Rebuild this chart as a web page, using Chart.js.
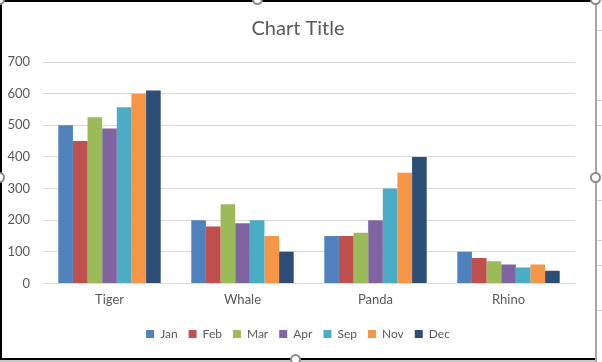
<!DOCTYPE html>
<html>
<head>
<meta charset="utf-8">
<script src="https://cdn.jsdelivr.net/npm/chart.js@4.4.1/dist/chart.umd.min.js"></script>
<style>
  html, body { margin: 0; padding: 0; background: #fff; }
  #wrap { position: relative; width: 602px; height: 362px; overflow: hidden; }
  #c { position: absolute; left: 0; top: 0; }
  .ln { position: absolute; }
  .h { position: absolute; width: 11px; height: 11px; border: 2px solid #8c8c8c; border-radius: 50%; background: #fff; box-sizing: border-box; }
</style>
</head>
<body>
<div id="wrap">
  <canvas id="c" width="602" height="362"></canvas>
  <div class="ln" style="left:0;top:0;width:602px;height:2px;background:#000"></div>
  <div class="ln" style="left:0;top:0;width:2px;height:362px;background:#000"></div>
  <div class="ln" style="left:0;top:358px;width:602px;height:2px;background:#000"></div>
  <div class="ln" style="left:0;top:360px;width:602px;height:2px;background:#c8c8c8"></div>
  <div class="ln" style="left:595px;top:0;width:2px;height:362px;background:#a6a6a6"></div>
  <div class="ln" style="left:597px;top:0;width:5px;height:362px;background:#fff"></div>
  <div class="ln" style="left:597px;top:30px;width:5px;height:1px;background:#d0d0d0"></div>
  <div class="ln" style="left:597px;top:100px;width:5px;height:1px;background:#d0d0d0"></div>
  <div class="ln" style="left:597px;top:125px;width:5px;height:1px;background:#d0d0d0"></div>
  <div class="ln" style="left:597px;top:200px;width:5px;height:1px;background:#d0d0d0"></div>
  <div class="ln" style="left:597px;top:240px;width:5px;height:1px;background:#d0d0d0"></div>
  <div class="ln" style="left:597px;top:265px;width:5px;height:1px;background:#d0d0d0"></div>
  <div class="ln" style="left:597px;top:310px;width:5px;height:1px;background:#d0d0d0"></div>
  <div class="h" style="left:-6px;top:-6px"></div>
  <div class="h" style="left:252px;top:-6px"></div>
  <div class="h" style="left:590px;top:-6px"></div>
  <div class="h" style="left:-6px;top:172px"></div>
  <div class="h" style="left:590px;top:172px"></div>
  <div class="h" style="left:290px;top:354px"></div>
</div>
<script>
const categories = ["Tiger", "Whale", "Panda", "Rhino"];
const seriesNames = ["Jan", "Feb", "Mar", "Apr", "Sep", "Nov", "Dec"];
const jan = [500, 200, 150, 100];
const feb = [450, 180, 150, 80];
const mar = [525, 250, 160, 70];
const apr = [490, 190, 200, 60];
const sep = [557, 200, 300, 50];
const nov = [600, 150, 350, 60];
const dec = [610, 100, 400, 40];
const yTicks = [0, 100, 200, 300, 400, 500, 600, 700];

const colors = ["#4F81BD", "#C0504D", "#9BBB59", "#8064A2", "#4BACC6", "#F79646", "#2C4D75"];
const values = [jan, feb, mar, apr, sep, nov, dec];

const FONT = "Lato, 'Open Sans', sans-serif";
const GREY = "#595959";

new Chart(document.getElementById("c"), {
  type: "bar",
  data: {
    labels: categories,
    datasets: seriesNames.map((n, i) => ({
      label: n,
      data: values[i],
      backgroundColor: colors[i],
      borderWidth: 0,
      categoryPercentage: 0.77,
      barPercentage: 1.0
    }))
  },
  options: {
    responsive: false,
    animation: false,
    devicePixelRatio: 1,
    layout: { padding: { left: 0, right: 6, top: 13, bottom: 12 } },
    plugins: {
      title: {
        display: true,
        text: "Chart Title",
        color: GREY,
        font: { family: FONT, size: 20, weight: "normal" },
        padding: { top: 4, bottom: 21 }
      },
      legend: {
        display: true,
        position: "bottom",
        labels: {
          color: GREY,
          font: { family: FONT, size: 12 },
          boxWidth: 8,
          boxHeight: 8,
          padding: 11
        }
      },
      tooltip: { enabled: false }
    },
    scales: {
      x: {
        grid: { display: false, drawTicks: false },
        border: { display: true, color: "#d9d9d9", width: 1 },
        ticks: { color: GREY, font: { family: FONT, size: 13 }, padding: 9 }
      },
      y: {
        min: 0,
        max: 700,
        afterBuildTicks: (s) => { s.ticks = yTicks.map(v => ({ value: v })); },
        afterFit: (s) => { s.width = 43; },
        grid: { color: "#d9d9d9", drawTicks: false },
        border: { display: false },
        ticks: { color: GREY, font: { family: FONT, size: 13 }, padding: 13 }
      },
      yR: {
        position: "right",
        display: true,
        min: 0,
        max: 700,
        afterFit: (s) => { s.width = 21; },
        grid: { display: false, drawTicks: false },
        border: { display: false },
        ticks: { display: false }
      }
    }
  }
});
</script>
</body>
</html>
